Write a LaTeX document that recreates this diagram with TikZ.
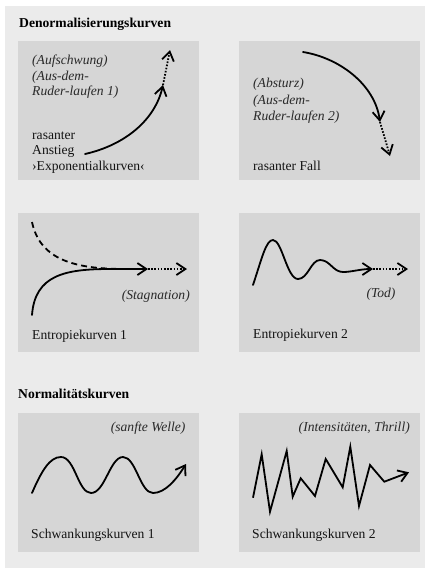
\documentclass[tikz,border=0pt]{standalone}
\usepackage{fontspec}
\setmainfont{Liberation Serif}
\usetikzlibrary{arrows.meta}
\definecolor{outerbg}{HTML}{EBEBEB}
\definecolor{boxbg}{HTML}{D6D6D6}
\tikzset{
  panel/.style={fill=boxbg, draw=none},
  txt/.style={anchor=base west, inner sep=0pt, text=black!92, font=\fontsize{13.6}{15.6}\selectfont},
  itx/.style={txt, text=black!84, font=\fontsize{13.6}{15.6}\selectfont\itshape},
  itr/.style={itx, anchor=base east},
  head/.style={txt, text=black, font=\fontsize{13.6}{15.6}\selectfont\bfseries},
  curve/.style={line width=1.8pt, line cap=round},
  arr/.style={-{Straight Barb[length=9pt,width=12pt]}},
  dotl/.style={line width=1.8pt, dash pattern=on 1.6pt off 1.6pt},
  dashl/.style={line width=1.8pt, dash pattern=on 6pt off 4pt},
}
\begin{document}
\begin{tikzpicture}[x=1pt,y=-1pt]
\useasboundingbox (0,0) rectangle (425,568);
\fill[outerbg] (5,6) rectangle (425,568);
% panels
\fill[panel] (18,41) rectangle (199,180);
\fill[panel] (239,41) rectangle (420,180);
\fill[panel] (18,213) rectangle (199,352);
\fill[panel] (239,213) rectangle (420,352);
\fill[panel] (18,413) rectangle (199,552);
\fill[panel] (239,413) rectangle (420,552);
% headings
\node[head] (h1) at (19,27.7) {Denormalisierungskurven};
\node[head] (h2) at (18,398.3) {Normalitätskurven};
% panel 1
\node[itx] (p1a) at (32,64.5) {(Aufschwung)};
\node[itx] (p1b) at (32,80) {(Aus-dem-};
\node[itx] (p1c) at (32,95.5) {Ruder-laufen 1)};
\node[txt] (p1d) at (32,139) {rasanter};
\node[txt] (p1e) at (32,154.5) {Anstieg};
\node[txt] (p1f) at (32,170) {›Exponentialkurven‹};
\coordinate (a1s) at (85,154);
\coordinate (a1m) at (163,85);
\coordinate (a1e) at (170,50);
\draw[curve,arr] (a1s) .. controls (125,145) and (155,120) .. (a1m);
\draw[dotl,arr] (a1m) -- (a1e);
% panel 2
\node[itx] (p2a) at (253,87.5) {(Absturz)};
\node[itx] (p2b) at (253,104) {(Aus-dem-};
\node[itx] (p2c) at (253,120.5) {Ruder-laufen 2)};
\node[txt] (p2d) at (253,170) {rasanter Fall};
\coordinate (a2s) at (303,52);
\coordinate (a2m) at (380,122);
\coordinate (a2e) at (390,156);
\draw[curve,arr] (a2s) .. controls (340,58) and (375,85) .. (a2m);
\draw[dotl,arr] (a2m) -- (a2e);
% panel 3
\node[itr] (p3a) at (190,299) {(Stagnation)};
\node[txt] (p3b) at (32,339) {Entropiekurven 1};
\coordinate (a3d) at (32,222);
\coordinate (a3s) at (32,315);
\coordinate (a3m) at (148,269);
\coordinate (a3e) at (187,269);
\draw[dashl] (a3d) .. controls (40,260) and (75,269) .. (125,269);
\draw[curve,arr] (a3s) .. controls (35,275) and (65,269) .. (110,269) -- (a3m);
\draw[dotl,arr] (a3m) -- (a3e);
% panel 4
\node[itr] (p4a) at (395.7,297.3) {(Tod)};
\node[txt] (p4b) at (253,338.3) {Entropiekurven 2};
\coordinate (a4s) at (253,285);
\coordinate (a4m) at (373,269);
\coordinate (a4e) at (408,269);
\draw[curve,arr] (a4s) .. controls (262,258) and (266,240) .. (273,240)
  .. controls (282,240) and (287,279) .. (298,279)
  .. controls (308,279) and (311,260) .. (320,260)
  .. controls (330,260) and (333,272) .. (343,272)
  .. controls (352,272) and (360,269) .. (a4m);
\draw[dotl,arr] (a4m) -- (a4e);
% panel 5
\node[itr] (p5a) at (185.7,431.7) {(sanfte Welle)};
\node[txt] (p5b) at (31,538.3) {Schwankungskurven 1};
\coordinate (a5s) at (32,493);
\coordinate (a5e) at (186,464);
\draw[curve,arr] (a5s) .. controls (42,470) and (50,457) .. (61,457)
  .. controls (75,457) and (78,493) .. (91,493)
  .. controls (105,493) and (110,457) .. (123,457)
  .. controls (136,457) and (140,493) .. (153,493)
  .. controls (165,493) and (176,480) .. (a5e);
% panel 6
\node[itr] (p6a) at (410,431.7) {(Intensitäten, Thrill)};
\node[txt] (p6b) at (252,538) {Schwankungskurven 2};
\coordinate (a6s) at (253,497.7);
\coordinate (a6e) at (409,472.3);
\draw[line width=1.8pt, line join=miter, arr] (a6s) -- (261.7,454.3) -- (270,511.7) -- (286.7,451)
  -- (292.7,496.7) -- (300.7,478.3) -- (315,496) -- (325.7,459) -- (342.7,487.3)
  -- (350.3,446.7) -- (359,506) -- (370,465) -- (384.3,481.7) -- (a6e);
\end{tikzpicture}
\end{document}
